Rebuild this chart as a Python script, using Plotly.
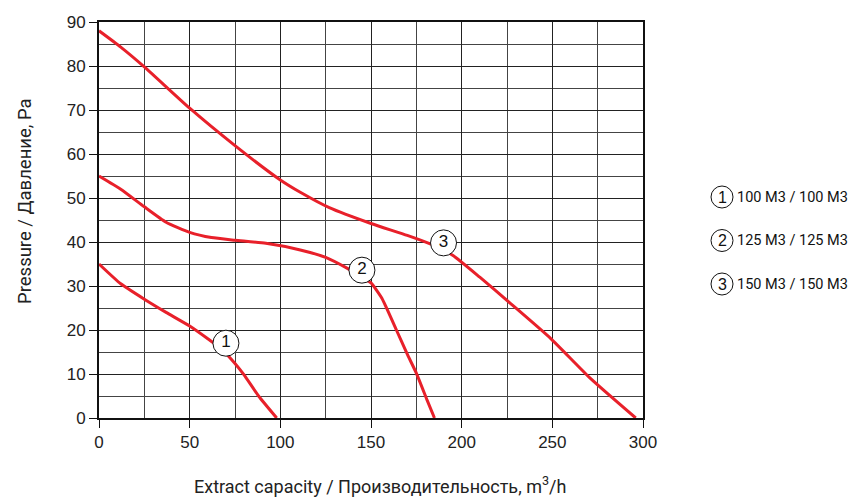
import plotly.graph_objects as go

# Data
c1_x = [0, 12, 25, 37, 50, 60, 68, 75, 80, 88, 98]
c1_y = [35, 30.5, 27, 24, 20.9, 18, 15.5, 12.4, 9.8, 5, 0]

c2_x = [0, 12, 25, 37, 50, 62, 75, 92, 111, 125, 137, 145, 150, 156, 164, 170, 175, 181, 185]
c2_y = [55, 52, 48, 44.5, 42.2, 41, 40.4, 39.7, 38.2, 36.5, 34, 32, 30.7, 27.2, 20, 14.5, 10.2, 4, 0]

c3_x = [0, 12, 25, 50, 75, 100, 111, 127, 150, 170, 183, 195, 210, 227, 249, 271, 296]
c3_y = [88, 84.3, 79.8, 70.4, 61.9, 54.1, 51.3, 47.8, 44.2, 41.5, 39.5, 37, 32, 26, 18.1, 9, 0]

label_x = [70, 145, 190]
label_y = [17, 33.6, 39.8]
label_txt = ["1", "2", "3"]

legend_txt = ["100 M3 / 100 M3", "125 M3 / 125 M3", "150 M3 / 150 M3"]

x_title = "Extract capacity / Производительность, m<sup>3</sup>/h"
y_title = "Pressure / Давление, Pa"

RED = "#e8202a"
fig = go.Figure()
for xs, ys in [(c1_x, c1_y), (c2_x, c2_y), (c3_x, c3_y)]:
    fig.add_trace(go.Scatter(x=xs, y=ys, mode="lines",
                             line=dict(color=RED, width=3, shape="spline", smoothing=0.5),
                             showlegend=False, hoverinfo="skip"))

fig.add_trace(go.Scatter(x=label_x, y=label_y, mode="markers+text", text=label_txt,
                         textposition="middle center",
                         textfont=dict(family="Liberation Sans", size=17, color="#111"),
                         marker=dict(size=26, color="white", line=dict(color="#111", width=1)),
                         showlegend=False, hoverinfo="skip"))

# page has an 8px body offset; keep the figure inside the window
OFF = 8
W, H = 858 - OFF, 499 - OFF
L, T = 99 - OFF, 22 - OFF
R = W - (643 - OFF)
B = H - (418 - OFF)
pw, ph = W - L - R, H - T - B


def px_x(page_x):
    return (page_x - OFF - L) / pw


def px_y(page_y):
    return 1 - (page_y - OFF - T) / ph


shapes = []
annotations = []
for i, txt in enumerate(legend_txt):
    yp = px_y(197 + i * 43.5)
    xp = px_x(722)
    shapes.append(dict(type="circle", xref="paper", yref="paper", xsizemode="pixel", ysizemode="pixel",
                       xanchor=xp, yanchor=yp, x0=-11, x1=11, y0=-11, y1=11,
                       line=dict(color="#111", width=1), fillcolor="white"))
    annotations.append(dict(xref="paper", yref="paper", x=xp, y=yp, text=str(i + 1), showarrow=False,
                            xanchor="center", yanchor="middle",
                            font=dict(family="Liberation Sans", size=16, color="#111")))
    annotations.append(dict(xref="paper", yref="paper", x=px_x(735), y=yp, text=txt,
                            showarrow=False, xanchor="left", yanchor="middle",
                            font=dict(family="Roboto", size=14.5, color="#111")))

annotations.append(dict(xref="paper", yref="paper", x=px_x(380), y=px_y(485), text=x_title,
                        showarrow=False, xanchor="center", yanchor="middle",
                        font=dict(family="Roboto", size=18, color="#222")))
annotations.append(dict(xref="paper", yref="paper", x=px_x(25), y=px_y(201), text=y_title,
                        showarrow=False, xanchor="center", yanchor="middle", textangle=-90,
                        font=dict(family="Roboto", size=18.5, color="#222")))

fig.update_layout(
    width=W, height=H,
    margin=dict(l=L, r=R, t=T, b=B, autoexpand=False),
    paper_bgcolor="white", plot_bgcolor="white",
    shapes=shapes, annotations=annotations,
    xaxis=dict(range=[0, 300], dtick=50, tick0=0, showgrid=True, gridcolor="#222", gridwidth=1,
               minor=dict(dtick=25, showgrid=True, gridcolor="#444", gridwidth=1),
               showline=True, linecolor="#111", linewidth=2, mirror=True,
               ticks="outside", ticklen=8, tickcolor="#111", zeroline=False,
               tickfont=dict(family="Liberation Sans", size=17, color="#222")),
    yaxis=dict(range=[0, 90], dtick=10, tick0=0, showgrid=True, gridcolor="#222", gridwidth=1,
               minor=dict(dtick=5, showgrid=True, gridcolor="#444", gridwidth=1),
               showline=True, linecolor="#111", linewidth=2, mirror=True,
               ticks="outside", ticklen=8, tickcolor="#111", zeroline=False,
               tickfont=dict(family="Liberation Sans", size=17, color="#222")),
)

fig.write_html("out.html")
